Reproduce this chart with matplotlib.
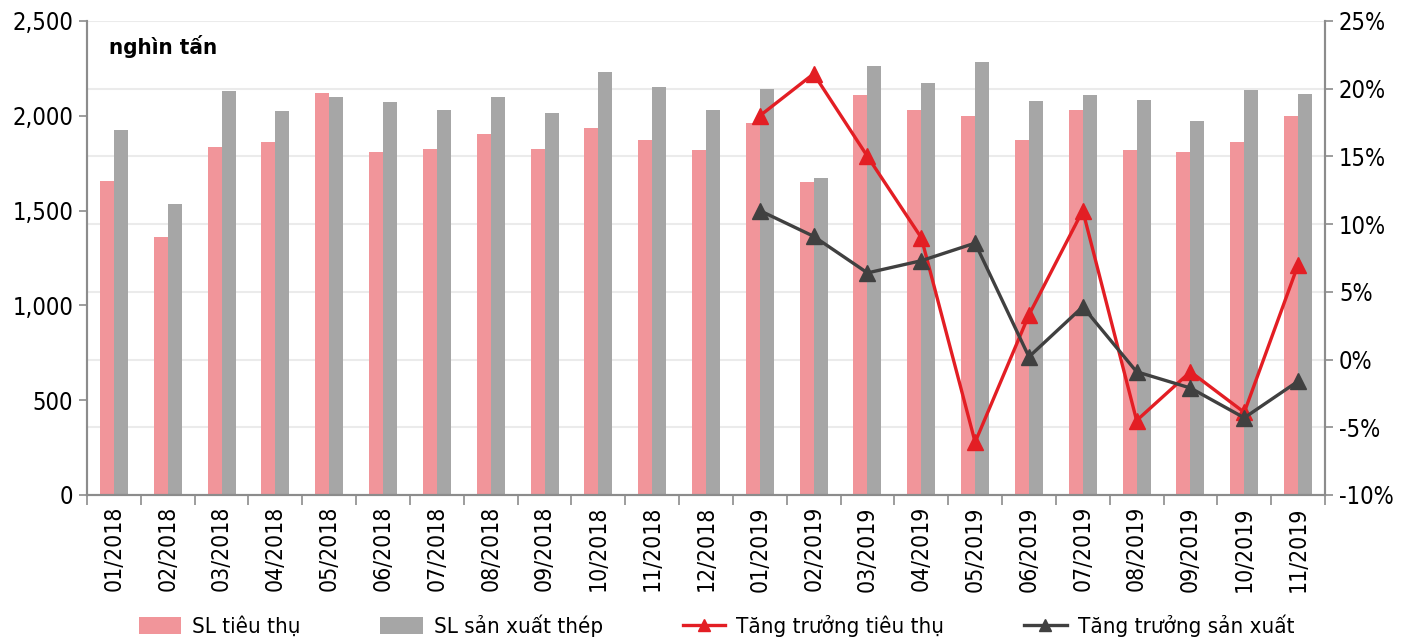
import numpy as np
import matplotlib
matplotlib.use("Agg")
import matplotlib.pyplot as plt
from matplotlib.ticker import FuncFormatter, FixedLocator

plt.rcParams['font.family'] = ['DejaVu Sans Condensed', 'Liberation Sans Narrow', 'DejaVu Sans']
plt.rcParams['font.stretch'] = 'condensed'

# Dữ liệu (nghìn tấn, %)
thang = ["01/2018", "02/2018", "03/2018", "04/2018", "05/2018", "06/2018",
         "07/2018", "08/2018", "09/2018", "10/2018", "11/2018", "12/2018",
         "01/2019", "02/2019", "03/2019", "04/2019", "05/2019", "06/2019",
         "07/2019", "08/2019", "09/2019", "10/2019", "11/2019"]
sl_tieu_thu = [1658, 1361, 1835, 1862, 2120, 1809, 1825, 1904, 1825, 1936, 1872, 1820,
               1962, 1651, 2110, 2031, 1999, 1871, 2029, 1818, 1810, 1860, 1999]
sl_san_xuat = [1925, 1535, 2131, 2025, 2099, 2073, 2031, 2099, 2015, 2231, 2152, 2031,
               2139, 1672, 2265, 2174, 2284, 2078, 2108, 2083, 1975, 2136, 2117]
# tăng trưởng chỉ có từ 01/2019
tt_tieu_thu = [18.0, 21.1, 15.0, 9.0, -6.1, 3.3, 11.0, -4.5, -0.9, -3.9, 7.0]
tt_san_xuat = [11.0, 9.1, 6.4, 7.3, 8.6, 0.2, 3.9, -0.9, -2.1, -4.3, -1.6]

mau_hong = "#F1959A"
mau_xam = "#A6A6A6"
mau_do = "#E31E24"
mau_xam_dam = "#404040"
mau_truc = "#8C8C8C"

fig = plt.figure(figsize=(14.13, 6.41), dpi=100)
ax = fig.add_axes([87 / 1413, 1 - 495 / 641, (1325 - 87) / 1413, (495 - 21) / 641])
ax2 = ax.twinx()

x = np.arange(len(thang))
w = 0.26
ax.bar(x - w / 2, sl_tieu_thu, w, color=mau_hong, label="SL tiêu thụ", zorder=2)
ax.bar(x + w / 2, sl_san_xuat, w, color=mau_xam, label="SL sản xuất thép", zorder=2)

x_2019 = x[12:]
ax2.plot(x_2019, tt_tieu_thu, color=mau_do, lw=2.4, marker="^", ms=12,
         label="Tăng trưởng tiêu thụ")
ax2.plot(x_2019, tt_san_xuat, color=mau_xam_dam, lw=2.4, marker="^", ms=12,
         label="Tăng trưởng sản xuất")

ax.set_xlim(-0.5, len(thang) - 0.5)
ax.set_ylim(0, 2500)
ax2.set_ylim(-10, 25)

ax.set_yticks(np.arange(0, 2501, 500))
ax.yaxis.set_major_formatter(FuncFormatter(lambda v, p: f"{v:,.0f}"))
ax2.set_yticks(np.arange(-10, 26, 5))
ax2.yaxis.set_major_formatter(FuncFormatter(lambda v, p: f"{v:.0f}%"))

# lưới theo trục phải
for g in np.arange(-10, 26, 5):
    ax.axhline((g + 10) / 35 * 2500, color="#ebebeb", lw=1.5, zorder=0)

ax.set_xticks(x)
ax.set_xticklabels(thang, rotation=90, fontsize=16.5)
ax.tick_params(axis="x", length=0, pad=8)
ax.xaxis.set_minor_locator(FixedLocator(np.arange(-0.5, len(thang), 1)))
ax.tick_params(axis="x", which="minor", length=7, color=mau_truc, width=1.2)
ax.tick_params(axis="y", labelsize=17, length=6, color=mau_truc, width=1.2, pad=4)
ax2.tick_params(axis="y", labelsize=17, length=6, color=mau_truc, width=1.2, pad=4)

for a in (ax, ax2):
    a.spines["top"].set_visible(False)
    for s in ("left", "right", "bottom"):
        a.spines[s].set_color(mau_truc)
        a.spines[s].set_linewidth(1.5)

ax.text(0.018, 0.97, "nghìn tấn", transform=ax.transAxes, fontsize=16,
        fontweight="bold", va="top", ha="left")

h1, l1 = ax.get_legend_handles_labels()
h2, l2 = ax2.get_legend_handles_labels()
fig.legend(h1 + h2, l1 + l2, loc="center", bbox_to_anchor=(0.507, 15 / 641),
           ncol=4, frameon=False, fontsize=16, handlelength=1.9, handleheight=0.8,
           columnspacing=3.6, handletextpad=0.5, markerscale=0.75)

fig.savefig("out.png", dpi=100)
